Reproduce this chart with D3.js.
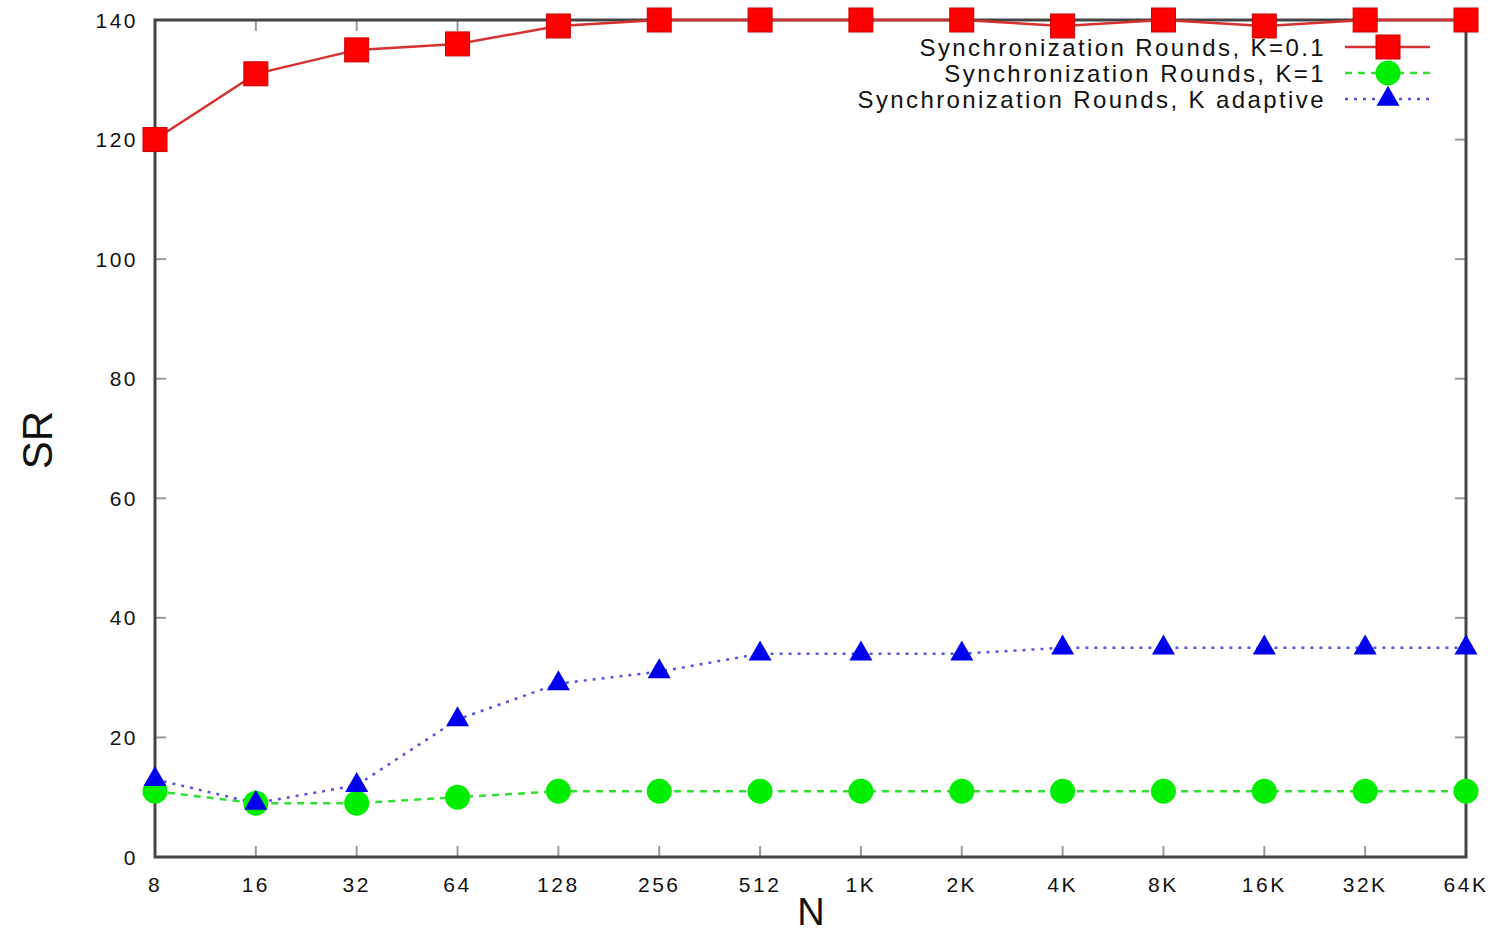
<!DOCTYPE html>
<html>
<head>
<meta charset="utf-8">
<script src="https://cdn.jsdelivr.net/npm/d3@7"></script>
<style>
  body { margin: 0; background: #fff; }
  text { font-family: "Liberation Sans", Arial, sans-serif; fill: #111; }
</style>
</head>
<body>
<div id="chart"></div>
<script>
// chart data
var nLabels = ["8", "16", "32", "64", "128", "256", "512", "1K", "2K", "4K", "8K", "16K", "32K", "64K"];
var srK01 = [120, 131, 135, 136, 139, 140, 140, 140, 140, 139, 140, 139, 140, 140];
var srK1 = [11, 9, 9, 10, 11, 11, 11, 11, 11, 11, 11, 11, 11, 11];
var srAdaptive = [13, 9, 12, 23, 29, 31, 34, 34, 34, 35, 35, 35, 35, 35];
var yTicks = [0, 20, 40, 60, 80, 100, 120, 140];
var seriesNames = ["Synchronization Rounds, K=0.1", "Synchronization Rounds, K=1", "Synchronization Rounds, K adaptive"];

var width = 1496, height = 935;
var margin = {top: 20, right: 30, bottom: 78, left: 155};
var innerW = width - margin.left - margin.right,
    innerH = height - margin.top - margin.bottom;

var svg = d3.select("#chart").append("svg")
    .attr("width", width)
    .attr("height", height);

var g = svg.append("g")
    .attr("transform", "translate(" + margin.left + "," + margin.top + ")");

var x = d3.scalePoint().domain(nLabels).range([0, innerW]);
var y = d3.scaleLinear().domain([0, 140]).range([innerH, 0]);

// ticks, inward on all four sides
var tickLen = 11;
yTicks.forEach(function(t) {
    g.append("line").attr("x1", 0).attr("x2", tickLen).attr("y1", y(t)).attr("y2", y(t))
        .attr("stroke", "#999").attr("stroke-width", 2);
    g.append("line").attr("x1", innerW).attr("x2", innerW - tickLen).attr("y1", y(t)).attr("y2", y(t))
        .attr("stroke", "#999").attr("stroke-width", 2);
    g.append("text")
        .attr("x", -17).attr("y", y(t))
        .attr("dy", "0.36em")
        .attr("text-anchor", "end")
        .style("font-size", "21px")
        .style("letter-spacing", "2.5px")
        .text(t);
});
nLabels.forEach(function(n) {
    g.append("line").attr("x1", x(n)).attr("x2", x(n)).attr("y1", innerH).attr("y2", innerH - tickLen)
        .attr("stroke", "#999").attr("stroke-width", 2);
    g.append("line").attr("x1", x(n)).attr("x2", x(n)).attr("y1", 0).attr("y2", tickLen)
        .attr("stroke", "#999").attr("stroke-width", 2);
    g.append("text")
        .attr("x", x(n)).attr("y", innerH + 27)
        .attr("dy", "0.36em")
        .attr("text-anchor", "middle")
        .style("font-size", "21px")
        .style("letter-spacing", "2.5px")
        .text(n);
});

// frame
g.append("rect")
    .attr("width", innerW).attr("height", innerH)
    .attr("fill", "none").attr("stroke", "#444").attr("stroke-width", 3);

// axis titles
svg.append("text")
    .attr("x", margin.left + x("1K") - 50).attr("y", 925)
    .attr("text-anchor", "middle")
    .style("font-size", "38px")
    .text("N");
svg.append("text")
    .attr("transform", "translate(52,440) rotate(-90)")
    .attr("text-anchor", "middle")
    .style("font-size", "42px")
    .text("SR");

var line = d3.line()
    .x(function(d, i) { return x(nLabels[i]); })
    .y(function(d) { return y(d); });

var series = [
    {name: seriesNames[0], values: srK01, color: "#ff0000", lineColor: "#d63030", dash: null, shape: "square"},
    {name: seriesNames[1], values: srK1, color: "#00ee00", lineColor: "#33dd33", dash: "7,6", shape: "circle"},
    {name: seriesNames[2], values: srAdaptive, color: "#0000ee", lineColor: "#5555dd", dash: "3,6", shape: "triangle"}
];

function drawMarker(sel, shape, color) {
    if (shape == "square") {
        sel.append("rect").attr("x", -12).attr("y", -12).attr("width", 24).attr("height", 24)
            .attr("fill", color).attr("stroke", "#c00").attr("stroke-width", 1);
    } else if (shape == "circle") {
        sel.append("circle").attr("r", 12.5).attr("fill", color);
    } else {
        sel.append("path").attr("d", d3.symbol().type(d3.symbolTriangle).size(230)())
            .attr("fill", color);
    }
}

// lines first, then markers on top
series.forEach(function(s) {
    g.append("path")
        .datum(s.values)
        .attr("d", line)
        .attr("fill", "none")
        .attr("stroke", s.lineColor)
        .attr("stroke-width", 2.5)
        .attr("stroke-dasharray", s.dash);
});
series.forEach(function(s) {
    s.values.forEach(function(v, i) {
        var m = g.append("g").attr("transform", "translate(" + x(nLabels[i]) + "," + y(v) + ")");
        drawMarker(m, s.shape, s.color);
    });
});

// legend
var legend = svg.append("g");
series.forEach(function(s, i) {
    var ly = 47 + i * 26;
    legend.append("text")
        .attr("x", 1326).attr("y", ly)
        .attr("dy", "0.36em")
        .attr("text-anchor", "end")
        .style("font-size", "24px")
        .style("letter-spacing", "2.4px")
        .text(s.name);
    legend.append("line")
        .attr("x1", 1345).attr("x2", 1430).attr("y1", ly).attr("y2", ly)
        .attr("stroke", s.lineColor).attr("stroke-width", 2.5)
        .attr("stroke-dasharray", s.dash);
    drawMarker(legend.append("g").attr("transform", "translate(1388," + ly + ")"), s.shape, s.color);
});
</script>
</body>
</html>
